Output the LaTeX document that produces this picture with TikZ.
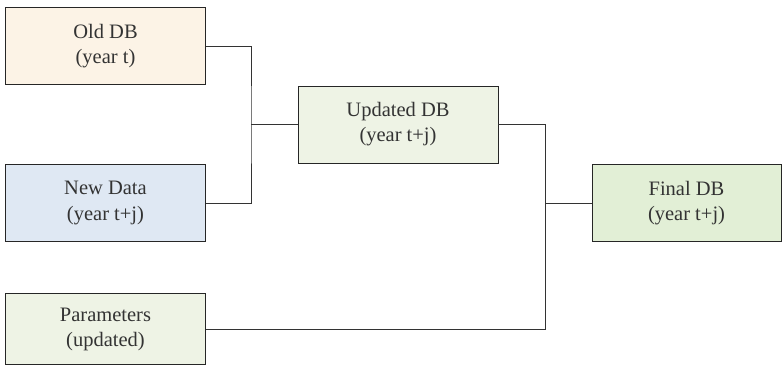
\documentclass[tikz,border=0pt]{standalone}
\usepackage{fontspec}
\setmainfont{Liberation Serif}
\definecolor{oldfill}{HTML}{FCF3E6}
\definecolor{newfill}{HTML}{DFE8F3}
\definecolor{parfill}{HTML}{EEF3E5}
\definecolor{finfill}{HTML}{E2EFD6}
\definecolor{wire}{HTML}{333333}
\tikzset{
  dbbox/.style={draw=black!85, line width=0.9pt, minimum width=200pt, minimum height=77pt,
    align=center, inner sep=0pt, font=\fontsize{20.5}{25}\selectfont, text=black!80},
  wireline/.style={draw=wire, line width=0.9pt}
}
\begin{document}
\begin{tikzpicture}[x=1pt,y=-1pt]
  \useasboundingbox (0,0) rectangle (783,366);
  % input databases
  \node[dbbox, fill=oldfill] (old) at (105.5,46) {Old DB\\(year t)};
  \node[dbbox, fill=newfill] (new) at (105.5,203) {New Data\\(year t+j)};
  \node[dbbox, fill=parfill, minimum height=71pt] (par) at (105.5,329) {Parameters\\(updated)};
  % intermediate and final results
  \node[dbbox, fill=parfill] (upd) at (398,124.5) {Updated DB\\(year t+j)};
  \node[dbbox, fill=finfill, minimum width=189pt] (fin) at (686.5,203) {Final DB\\(year t+j)};
  % junction points of the bracket connectors
  \coordinate (j1) at (251,124.5);
  \coordinate (j2) at (545,203);
  \draw[wireline] (old.east) -| (j1) |- (new.east);
  \draw[wireline] (j1) -- (upd.west);
  \draw[wireline] (upd.east) -| (j2) |- (par.east);
  \draw[wireline] (j2) -- (fin.west);
\end{tikzpicture}
\end{document}
